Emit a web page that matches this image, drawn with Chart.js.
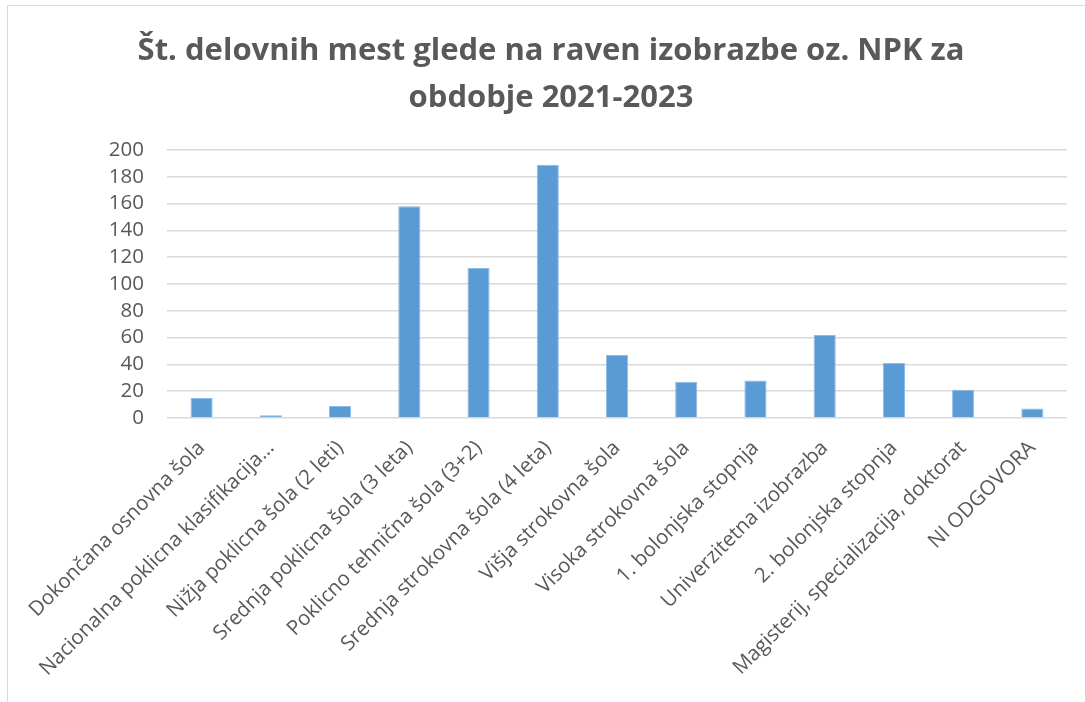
<!DOCTYPE html>
<html>
<head>
<meta charset="utf-8">
<script src="https://cdn.jsdelivr.net/npm/chart.js@4"></script>
<style>
  html, body { margin: 0; padding: 0; background: #fff; }
  #wrap { position: relative; width: 1085px; height: 702px; overflow: hidden; }
  #frame { position: absolute; left: 7px; top: 5px; width: 1200px; height: 800px; border: 1px solid #d9d9d9; box-sizing: border-box; }
  canvas { position: absolute; left: 0; top: 0; }
</style>
</head>
<body>
<div id="wrap">
  <div id="frame"></div>
  <canvas id="c" width="1085" height="702"></canvas>
</div>
<script>
const titleLines = ["Št. delovnih mest glede na raven izobrazbe oz. NPK za", "obdobje 2021-2023"];
const categories = [
  "Dokončana osnovna šola",
  "Nacionalna poklicna klasifikacija…",
  "Nižja poklicna šola (2 leti)",
  "Srednja poklicna šola (3 leta)",
  "Poklicno tehnična šola (3+2)",
  "Srednja strokovna šola (4 leta)",
  "Višja strokovna šola",
  "Visoka strokovna šola",
  "1. bolonjska stopnja",
  "Univerzitetna izobrazba",
  "2. bolonjska stopnja",
  "Magisterij, specializacija, doktorat",
  "NI ODGOVORA"
];
const values = [15, 2, 9, 158, 112, 189, 47, 27, 28, 62, 41, 21, 7];
const yMin = 0, yMax = 200, yStep = 20;

const grey = '#595959';

const titlePlugin = {
  id: 'customTitle',
  afterDraw(chart) {
    const ctx = chart.ctx;
    ctx.save();
    ctx.fillStyle = grey;
    ctx.font = 'bold 31px "Open Sans"';
    ctx.textAlign = 'center';
    ctx.textBaseline = 'alphabetic';
    ctx.fillText(titleLines[0], 551, 60);
    ctx.fillText(titleLines[1], 551, 107);
    ctx.restore();
  }
};

new Chart(document.getElementById('c'), {
  type: 'bar',
  data: {
    labels: categories,
    datasets: [{
      data: values,
      backgroundColor: '#5b9bd5',
      borderColor: '#8fbbe6',
      borderWidth: 1,
      barPercentage: 0.32,
      categoryPercentage: 1.0
    }]
  },
  plugins: [titlePlugin],
  options: {
    responsive: false,
    animation: false,
    devicePixelRatio: 1,
    layout: { padding: { left: 0, right: 18, top: 150, bottom: 0 } },
    plugins: {
      legend: { display: false },
      tooltip: { enabled: false },
      title: { display: false }
    },
    scales: {
      y: {
        min: yMin, max: yMax,
        ticks: { stepSize: yStep, autoSkip: false, color: grey, font: { family: 'Open Sans', size: 20.5 }, padding: 23 },
        grid: { color: '#d9d9d9', lineWidth: 1.5, drawTicks: false },
        border: { display: false },
        afterFit: (s) => { s.width = 167; }
      },
      x: {
        ticks: { color: grey, font: { family: 'Open Sans', size: 20.5 }, maxRotation: 45, minRotation: 45, autoSkip: false, padding: 18 },
        grid: { display: false, drawTicks: false },
        border: { display: false },
        afterFit: (s) => { s.height = 284; }
      }
    }
  }
});
</script>
</body>
</html>
